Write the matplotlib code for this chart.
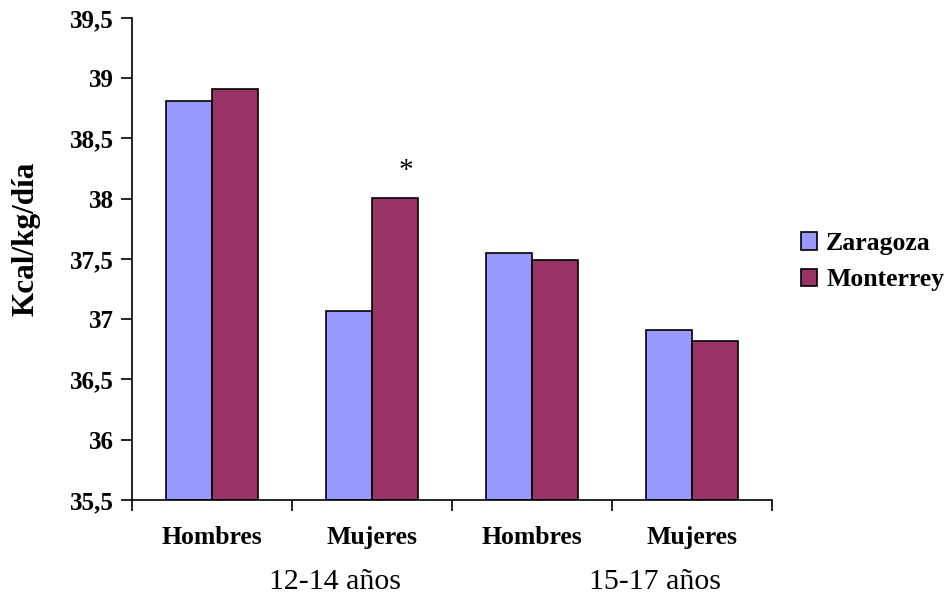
import numpy as np
import matplotlib
matplotlib.use("Agg")
import matplotlib.pyplot as plt
import matplotlib.transforms as mtransforms

# Data
categories = ["Hombres", "Mujeres", "Hombres", "Mujeres"]
age_groups = ["12-14 años", "15-17 años"]
zaragoza = [38.81, 37.07, 37.55, 36.91]
monterrey = [38.91, 38.01, 37.49, 36.82]
y_ticks = [35.5, 36, 36.5, 37, 37.5, 38, 38.5, 39, 39.5]

plt.rcParams['font.family'] = ['Liberation Serif', 'DejaVu Serif']

fig = plt.figure(figsize=(9.44, 5.96), dpi=100)
ax = fig.add_axes([0.1398, 0.1611, 0.678, 0.8087])

x = np.arange(len(categories))
w = 0.2875
ax.bar(x - w / 2, [v - 35.5 for v in zaragoza], w, bottom=35.5, color="#9999FF",
       edgecolor="black", linewidth=1.2, label="Zaragoza")
ax.bar(x + w / 2, [v - 35.5 for v in monterrey], w, bottom=35.5, color="#993366",
       edgecolor="black", linewidth=1.2, label="Monterrey")

ax.set_ylim(35.5, 39.5)
ax.set_xlim(-0.5, len(categories) - 0.5)
ax.set_yticks(y_ticks)
ax.set_yticklabels([("%g" % t).replace(".", ",") for t in y_ticks],
                   fontsize=18, fontweight="bold")
ax.tick_params(axis="y", direction="out", length=8, width=1.2, pad=5)

# boundary tick marks and centred category labels
ax.set_xticks(np.arange(-0.5, len(categories)))
ax.set_xticklabels([])
ax.set_xticks(x, minor=True)
ax.set_xticklabels(categories, minor=True, fontsize=18.5, fontweight="bold")
ax.tick_params(axis="x", which="major", direction="out", length=8, width=1.2)
ax.tick_params(axis="x", which="minor", length=0, pad=19)

for s in ["top", "right"]:
    ax.spines[s].set_visible(False)
for s in ["left", "bottom"]:
    ax.spines[s].set_linewidth(1.2)

# age group labels under each pair
trans = mtransforms.blended_transform_factory(ax.transData, fig.transFigure)
for i, lab in enumerate(age_groups):
    ax.text(2 * i + 0.77, 1 - 582 / 596, lab, transform=trans, ha="center",
            va="center", fontsize=21.5)

# significance mark
ax.text(1 + w / 2 + 0.07, 38.23, "*", ha="center", va="center", fontsize=21)

ax.set_ylabel("Kcal/kg/día", fontsize=22.5, fontweight="bold")
ax.yaxis.set_label_coords(-0.143, 0.541)

fig.legend(loc="center left", bbox_to_anchor=(0.848, 0.561), frameon=False,
           prop={"size": 18.5, "weight": "bold"}, handlelength=0.65,
           handleheight=0.65, handletextpad=0.35, labelspacing=0.52,
           borderpad=0, borderaxespad=0)

fig.savefig("out.png", dpi=100)
